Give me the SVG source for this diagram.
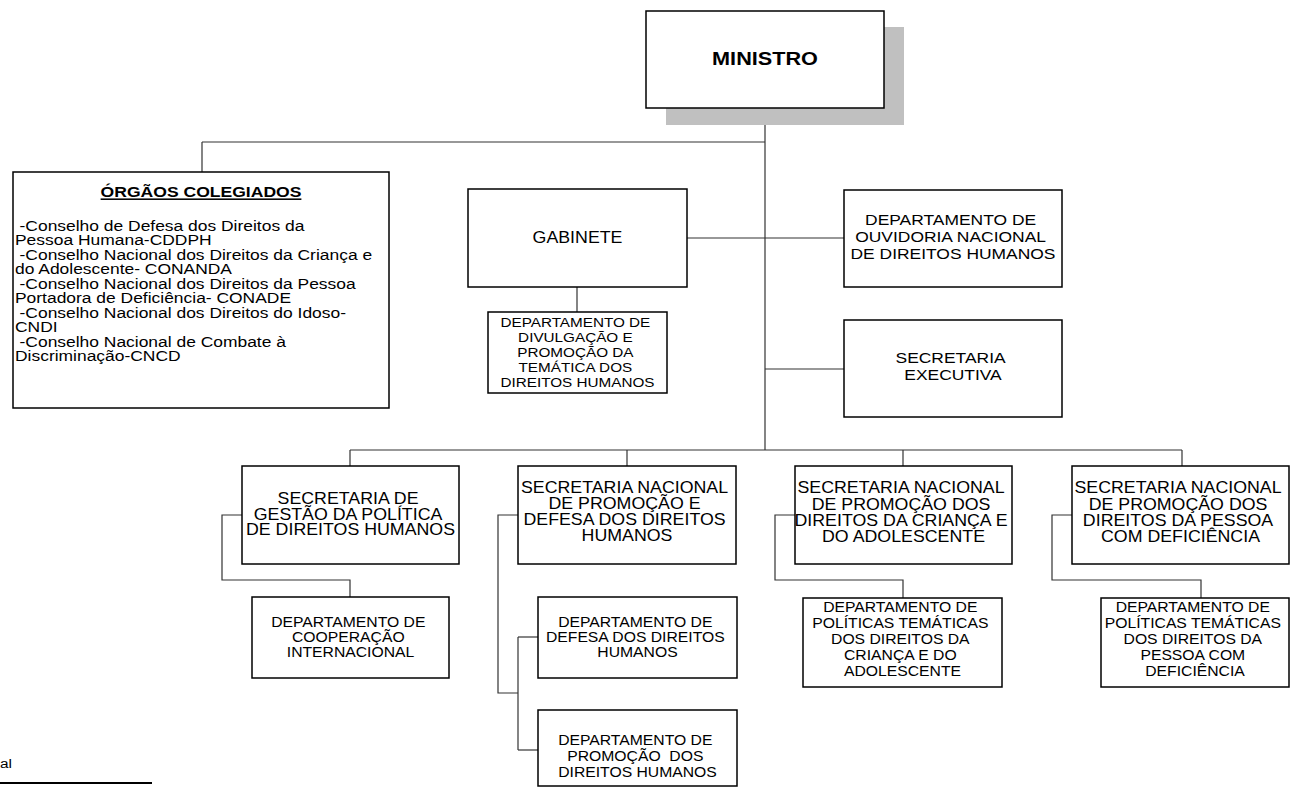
<svg xmlns="http://www.w3.org/2000/svg" width="1294" height="787" viewBox="0 0 1294 787">
<style>
.box{fill:#fff;stroke:#000;stroke-width:1.5}
.shadow{fill:#c0c0c0;stroke:none}
.conn{fill:none;stroke:#333;stroke-width:1.2}
.t{font-family:"Liberation Sans",Arial,sans-serif;fill:#000;text-anchor:middle}
.tl{font-family:"Liberation Sans",Arial,sans-serif;fill:#000;text-anchor:start}
.fm{font-size:15.6px}
.fo{font-size:15.3px}
.fd{font-size:13.8px}
.fdv{font-size:13.4px}
.fb{font-weight:bold}
</style>
<rect width="1294" height="787" fill="#fff"/>
<g id="connectors">
<path class="conn" d="M765,108 V450"/>
<path class="conn" d="M202,142 H765"/>
<path class="conn" d="M202,142 V172"/>
<path class="conn" d="M687,238 H844"/>
<path class="conn" d="M765,369 H844"/>
<path class="conn" d="M577,287 V312"/>
<path class="conn" d="M350,450 H1182"/>
<path class="conn" d="M350,450 V466"/>
<path class="conn" d="M627,450 V466"/>
<path class="conn" d="M903,450 V466"/>
<path class="conn" d="M1182,450 V466"/>
<path class="conn" d="M242,515 H222 V580 H350 V597"/>
<path class="conn" d="M518,515 H498 V693 H518"/>
<path class="conn" d="M518,637 V750"/>
<path class="conn" d="M518,637 H538"/>
<path class="conn" d="M518,750 H538"/>
<path class="conn" d="M795,515 H775 V580 H903 V598"/>
<path class="conn" d="M1072,515 H1052 V580 H1201 V598"/>
</g>
<g id="ministro">
<rect class="shadow" x="666" y="27" width="238" height="98"/>
<rect class="box" x="646" y="11" width="238" height="97"/>
<text class="t fb" font-size="19px" transform="matrix(1.14 0 0 1 765 0)" x="0" y="65.5">MINISTRO</text>
</g>
<g id="orgaos">
<rect class="box" x="13" y="172" width="376" height="236"/>
<text class="t fb" font-size="15.4px" transform="matrix(1.14 0 0 1 201 0)" x="0" y="197.5" text-decoration="underline">ÓRGÃOS COLEGIADOS</text>
<text class="tl" font-size="15.3px" transform="matrix(1.14 0 0 1 15 0)">
<tspan x="4" y="231">-Conselho de Defesa dos Direitos da</tspan>
<tspan x="0" y="245.5">Pessoa Humana-CDDPH</tspan>
<tspan x="4" y="260">-Conselho Nacional dos Direitos da Criança e</tspan>
<tspan x="0" y="274.5">do Adolescente- CONANDA</tspan>
<tspan x="4" y="289">-Conselho Nacional dos Direitos da Pessoa</tspan>
<tspan x="0" y="303.5">Portadora de Deficiência- CONADE</tspan>
<tspan x="4" y="318">-Conselho Nacional dos Direitos do Idoso-</tspan>
<tspan x="0" y="332.5">CNDI</tspan>
<tspan x="4" y="347">-Conselho Nacional de Combate à</tspan>
<tspan x="0" y="361.5">Discriminação-CNCD</tspan>
</text>
</g>
<g id="gabinete">
<rect class="box" x="468" y="189" width="219" height="98"/>
<text class="t fm" transform="matrix(1.14 0 0 1 577.5 0)" x="0" y="243.5">GABINETE</text>
</g>
<g id="divulgacao">
<rect class="box" x="488" y="312" width="179" height="81"/>
<text class="t fdv" transform="matrix(1.14 0 0 1 577.5 0)">
<tspan x="0" y="327.5">DEPARTAMENTO DE</tspan>
<tspan x="0" y="342.5">DIVULGAÇÃO E</tspan>
<tspan x="0" y="357.5">PROMOÇÃO DA</tspan>
<tspan x="0" y="372.5">TEMÁTICA DOS</tspan>
<tspan x="0" y="387.5">DIREITOS HUMANOS</tspan>
</text>
</g>
<g id="ouvidoria">
<rect class="box" x="844" y="190" width="218" height="97"/>
<text class="t fo" transform="matrix(1.14 0 0 1 953 0)">
<tspan x="0" y="225.5">DEPARTAMENTO DE</tspan>
<tspan x="0" y="242.5">OUVIDORIA NACIONAL</tspan>
<tspan x="0" y="259.5">DE DIREITOS HUMANOS</tspan>
</text>
</g>
<g id="secretaria-executiva">
<rect class="box" x="844" y="320" width="218" height="97"/>
<text class="t fo" transform="matrix(1.14 0 0 1 953 0)">
<tspan x="0" y="363.5">SECRETARIA</tspan>
<tspan x="0" y="380.5">EXECUTIVA</tspan>
</text>
</g>
<g id="sgpdh">
<rect class="box" x="242" y="466" width="217" height="98"/>
<text class="t fm" transform="matrix(1.14 0 0 1 350.5 0)">
<tspan x="0" y="504.5">SECRETARIA DE</tspan>
<tspan x="0" y="520">GESTÃO DA POLÍTICA</tspan>
<tspan x="0" y="535.5">DE DIREITOS HUMANOS</tspan>
</text>
</g>
<g id="snpddh">
<rect class="box" x="518" y="466" width="218" height="98"/>
<text class="t fm" transform="matrix(1.14 0 0 1 627 0)">
<tspan x="0" y="493.5">SECRETARIA NACIONAL</tspan>
<tspan x="0" y="509.5">DE PROMOÇÃO E</tspan>
<tspan x="0" y="525.5">DEFESA DOS DIREITOS</tspan>
<tspan x="0" y="541.5">HUMANOS</tspan>
</text>
</g>
<g id="snpdca">
<rect class="box" x="795" y="466" width="217" height="98"/>
<text class="t fm" transform="matrix(1.14 0 0 1 903.5 0)">
<tspan x="0" y="493.5">SECRETARIA NACIONAL</tspan>
<tspan x="0" y="510">DE PROMOÇÃO DOS</tspan>
<tspan x="0" y="526.5">DIREITOS DA CRIANÇA E</tspan>
<tspan x="0" y="542.5">DO ADOLESCENTE</tspan>
</text>
</g>
<g id="snpdpd">
<rect class="box" x="1072" y="466" width="217" height="98"/>
<text class="t fm" transform="matrix(1.14 0 0 1 1180.5 0)">
<tspan x="0" y="493.5">SECRETARIA NACIONAL</tspan>
<tspan x="0" y="510">DE PROMOÇÃO DOS</tspan>
<tspan x="0" y="526.5">DIREITOS DA PESSOA</tspan>
<tspan x="0" y="542.5">COM DEFICIÊNCIA</tspan>
</text>
</g>
<g id="cooperacao">
<rect class="box" x="252" y="597" width="197" height="81"/>
<text class="t fd" transform="matrix(1.14 0 0 1 350.5 0)">
<tspan x="0" y="627.5">DEPARTAMENTO DE</tspan>
<tspan x="0" y="642.5">COOPERAÇÃO</tspan>
<tspan x="0" y="657.5">INTERNACIONAL</tspan>
</text>
</g>
<g id="defesa">
<rect class="box" x="538" y="597" width="199" height="81"/>
<text class="t fd" transform="matrix(1.14 0 0 1 637.5 0)">
<tspan x="0" y="627.5">DEPARTAMENTO DE</tspan>
<tspan x="0" y="642.5">DEFESA DOS DIREITOS</tspan>
<tspan x="0" y="657.5">HUMANOS</tspan>
</text>
</g>
<g id="promocao">
<rect class="box" x="538" y="710" width="199" height="76"/>
<text class="t fd" transform="matrix(1.14 0 0 1 637.5 0)">
<tspan x="0" y="745.5">DEPARTAMENTO DE</tspan>
<tspan x="0" y="761.5" xml:space="preserve">PROMOÇÃO  DOS</tspan>
<tspan x="0" y="777.5">DIREITOS HUMANOS</tspan>
</text>
</g>
<g id="dept-crianca">
<rect class="box" x="803" y="598" width="199" height="89"/>
<text class="t fd" transform="matrix(1.14 0 0 1 902.5 0)">
<tspan x="0" y="612.5">DEPARTAMENTO DE</tspan>
<tspan x="0" y="628.3">POLÍTICAS TEMÁTICAS</tspan>
<tspan x="0" y="644.1">DOS DIREITOS DA</tspan>
<tspan x="0" y="659.9">CRIANÇA E DO</tspan>
<tspan x="0" y="675.7">ADOLESCENTE</tspan>
</text>
</g>
<g id="dept-pessoa">
<rect class="box" x="1101" y="598" width="188" height="89"/>
<text class="t fd" transform="matrix(1.14 0 0 1 1195 0)">
<tspan x="0" y="612.5">DEPARTAMENTO DE</tspan>
<tspan x="0" y="628.3">POLÍTICAS TEMÁTICAS</tspan>
<tspan x="0" y="644.1">DOS DIREITOS DA</tspan>
<tspan x="0" y="659.9">PESSOA COM</tspan>
<tspan x="0" y="675.7">DEFICIÊNCIA</tspan>
</text>
</g>
<g id="footnote">
<text class="tl" font-size="13.5px" transform="matrix(1.14 0 0 1 0 0)" x="0" y="768">al</text>
<line x1="0" y1="783" x2="152" y2="783" stroke="#000" stroke-width="2"/>
</g>
</svg>
